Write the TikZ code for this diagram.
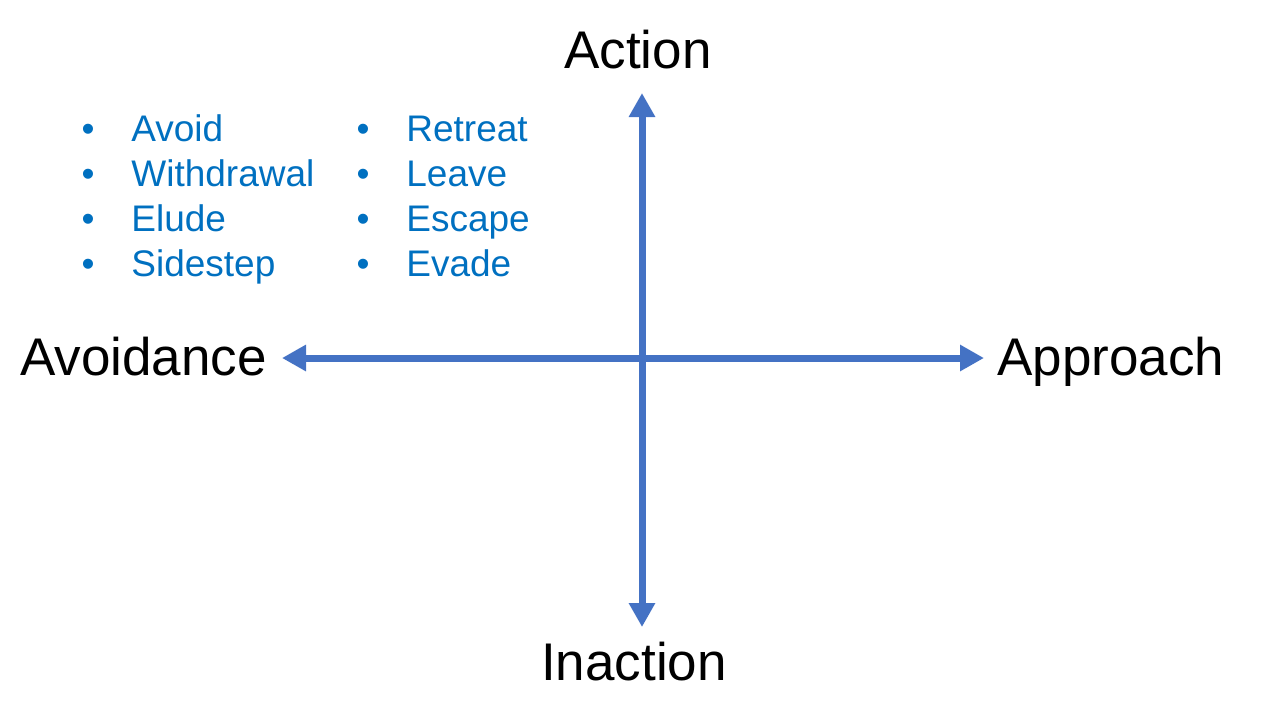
\documentclass[tikz,border=0pt]{standalone}
\usepackage{fontspec}
\setmainfont{Liberation Sans}
\usetikzlibrary{arrows.meta,positioning}
\definecolor{axisblue}{HTML}{4472C4}
\definecolor{itemblue}{HTML}{0070C0}
\tikzset{
    axis/.style={draw=axisblue, line width=3.5pt, {Triangle[length=12pt,width=12.5pt]}-{Triangle[length=12pt,width=12.5pt]}},
    pole/.style={inner sep=0pt, font=\fontsize{26.5}{30}\selectfont},
    item/.style={inner sep=0pt, anchor=base west, text=itemblue, font=\fontsize{18.5}{22}\selectfont},
    dot/.style={inner sep=0pt, anchor=base, text=itemblue, font=\fontsize{18.5}{22}\selectfont}
}

\begin{document}
\begin{tikzpicture}[x=0.5pt, y=-0.5pt]
    \useasboundingbox (0,0) rectangle (1280,720);

    % Axis ends
    \coordinate (west) at (282,358);
    \coordinate (east) at (984,358);
    \coordinate (north) at (642,93);
    \coordinate (south) at (642,627);

    % Poles
    \node[pole, anchor=base] (action) at (638,68) {Action};
    \node[pole, anchor=base] (inaction) at (634,680) {Inaction};
    \node[pole, anchor=base west] (avoidance) at (20,375) {Avoidance};
    \node[pole, anchor=base west] (approach) at (997,375) {Approach};

    % Items, first column
    \node[dot] (d1) at (88,141) {•};
    \node[dot] (d2) at (88,186) {•};
    \node[dot] (d3) at (88,231) {•};
    \node[dot] (d4) at (88,276) {•};
    \node[item] (avoid) at (131,141) {Avoid};
    \node[item] (withdrawal) at (131,186) {Withdrawal};
    \node[item] (elude) at (131,231) {Elude};
    \node[item] (sidestep) at (131,276) {Sidestep};

    % Items, second column
    \node[dot] (d5) at (363,141) {•};
    \node[dot] (d6) at (363,186) {•};
    \node[dot] (d7) at (363,231) {•};
    \node[dot] (d8) at (363,276) {•};
    \node[item] (retreat) at (406,141) {Retreat};
    \node[item] (leave) at (406,186) {Leave};
    \node[item] (escape) at (406,231) {Escape};
    \node[item] (evade) at (406,276) {Evade};

    % axes
    \draw[axis] (west) -- (east);
    \draw[axis] (south) -- (north);
\end{tikzpicture}
\end{document}
